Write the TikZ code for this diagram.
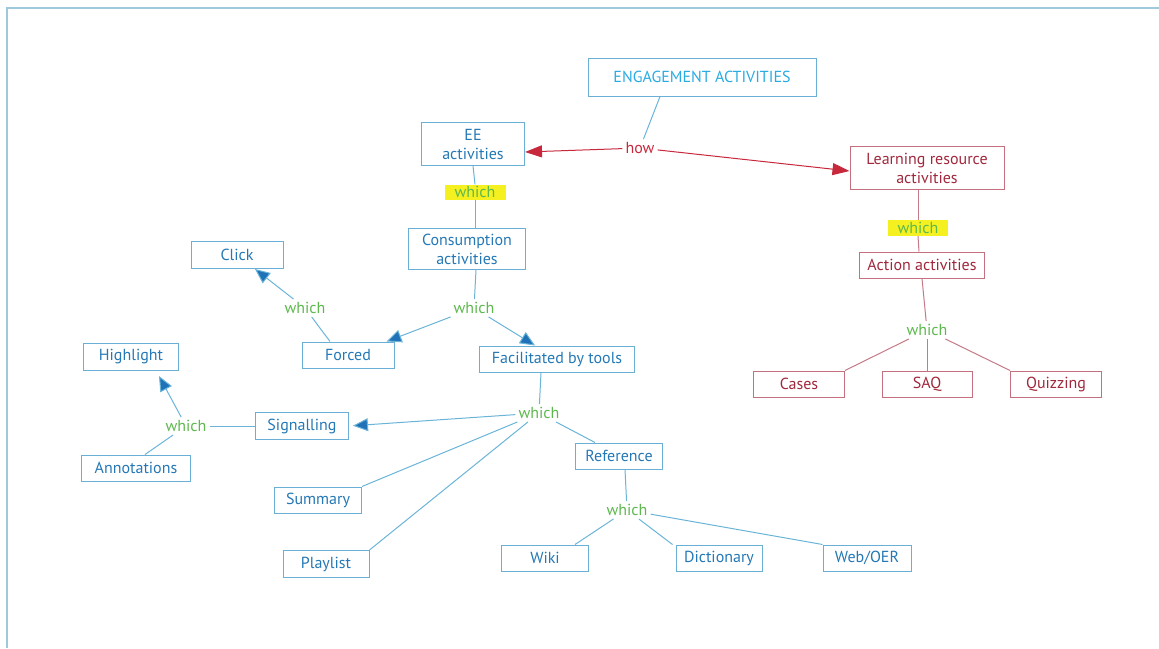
\documentclass[tikz,border=0pt]{standalone}
\usepackage{fontspec}
\setmainfont{PT Sans}
\usetikzlibrary{arrows.meta}
\definecolor{boxblue}{HTML}{6AB0D6}
\definecolor{txtblue}{HTML}{2478B5}
\definecolor{engblue}{HTML}{29ABE2}
\definecolor{lineblue}{HTML}{6AB4D8}
\definecolor{tipblue}{HTML}{1F72B8}
\definecolor{boxred}{HTML}{C4707E}
\definecolor{txtred}{HTML}{A0283C}
\definecolor{linered}{HTML}{C47A88}
\definecolor{howred}{HTML}{C8283C}
\definecolor{whgreen}{HTML}{5DB84E}
\definecolor{hlyellow}{HTML}{F5F020}
\definecolor{framec}{HTML}{9FC8DC}
\tikzset{
  x=1pt,y=-1pt,
  every node/.style={font=\fontsize{16}{19}\selectfont},
  bbox/.style={draw=boxblue,line width=1pt,text=txtblue,align=center,inner sep=0pt,minimum height=26pt},
  rbox/.style={draw=boxred,line width=1pt,text=txtred,align=center,inner sep=0pt,minimum height=26pt},
  wh/.style={text=whgreen,inner sep=3pt},
  hl/.style={fill=hlyellow,text=whgreen,inner sep=0pt,minimum height=15pt},
  bline/.style={draw=lineblue,line width=1pt},
  rline/.style={draw=linered,line width=1pt},
  barr/.style={bline,-{Triangle[length=15pt,width=13pt,fill=tipblue]}},
  rarr/.style={draw=howred,line width=1pt,-{Triangle[length=17pt,width=12pt,fill=howred]}}
}
\begin{document}
\begin{tikzpicture}
\useasboundingbox (0,0) rectangle (1159,648);
\draw[framec,line width=1.2pt] (7,648) -- (7,8) -- (1159,8);
% nodes
\node[bbox,minimum width=228pt,minimum height=38pt,text=engblue] (eng) at (702,77) {ENGAGEMENT ACTIVITIES};
\node[bbox,minimum width=103pt,minimum height=43pt] (ee) at (473,144) {EE\\activities};
\node[hl,minimum width=61pt] (w1) at (475,192) {which};
\node[text=howred,inner sep=3pt] (how) at (640,148) {how};
\node[rbox,minimum width=154pt,minimum height=43pt] (lr) at (927,168) {Learning resource\\activities};
\node[hl,minimum width=60pt,minimum height=16pt] (w2) at (918,228) {which};
\node[rbox,minimum width=125pt] (act) at (922,265) {Action activities};
\node[wh] (wact) at (927,330) {which};
\node[rbox,minimum width=91pt] (cases) at (799,384) {Cases};
\node[rbox,minimum width=90pt] (saq) at (927,384) {SAQ};
\node[rbox,minimum width=91pt] (quiz) at (1056,384) {Quizzing};
\node[bbox,minimum width=117pt,minimum height=41pt] (cons) at (467,249) {Consumption\\activities};
\node[wh] (wcons) at (474,308) {which};
\node[bbox,minimum width=92pt,minimum height=27pt] (click) at (237,255) {Click};
\node[wh] (wforced) at (305,308) {which};
\node[bbox,minimum width=92pt] (forced) at (348,355) {Forced};
\node[bbox,minimum width=155pt] (fac) at (557,359) {Facilitated by tools};
\node[wh] (wfac) at (539,413) {which};
\node[bbox,minimum width=95pt,minimum height=27pt] (high) at (131,357) {Highlight};
\node[wh] (wsig) at (186,426) {which};
\node[bbox,minimum width=93pt,minimum height=27pt] (sig) at (302,426) {Signalling};
\node[bbox,minimum width=109pt] (ann) at (136,468) {Annotations};
\node[bbox,minimum width=87pt] (sum) at (318,500) {Summary};
\node[bbox,minimum width=86pt,minimum height=27pt] (play) at (326,564) {Playlist};
\node[bbox,minimum width=87pt] (ref) at (619,456) {Reference};
\node[wh] (wref) at (627,510) {which};
\node[bbox,minimum width=87pt] (wiki) at (545,558) {Wiki};
\node[bbox,minimum width=86pt] (dict) at (719,558) {Dictionary};
\node[bbox,minimum width=88pt] (web) at (867,558) {Web/OER};
% connectors
\draw[bline] ([xshift=-42pt]eng.south) -- (how);
\draw[rarr] (how) -- ([yshift=-8pt]ee.east);
\draw[rarr] (how) -- ([yshift=-3pt]lr.west);
\draw[bline] (ee.south) -- (w1.north);
\draw[bline] (w1.south) -- ([xshift=8pt]cons.north);
\draw[bline] ([xshift=9pt]cons.south) -- (wcons);
\draw[barr] (wcons) -- ([xshift=-8pt]forced.north east);
\draw[barr] (wcons) -- (fac);
\draw[bline] ([xshift=-18pt]forced.north) -- (wforced);
\draw[barr] (wforced) -- (click);
\draw[bline] ([xshift=-16pt]fac.south) -- (wfac);
\draw[barr,shorten >=4pt] (wfac) -- (sig.east);
\draw[bline] (wfac) -- (sum.north east);
\draw[bline] (wfac) -- (play.north east);
\draw[bline] (wfac) -- ([xshift=-24pt]ref.north);
\draw[bline] (sig.west) -- (wsig);
\draw[barr] (wsig) -- ([xshift=28pt,yshift=-5pt]high.south);
\draw[bline] (wsig) -- ([xshift=9pt]ann.north);
\draw[bline] ([xshift=6pt]ref.south) -- (wref);
\draw[bline] (wref) -- ([xshift=30pt]wiki.north);
\draw[bline] (wref) -- ([xshift=-3pt]dict.north west);
\draw[bline] (wref) -- (web.north west);
\draw[rline] ([xshift=-9pt]lr.south) -- (w2.north);
\draw[rline] (w2.south) -- ([xshift=-3pt]act.north);
\draw[rline] (act.south) -- (wact);
\draw[rline] (wact) -- (cases.north east);
\draw[rline] (wact) -- (saq.north);
\draw[rline] (wact) -- (quiz.north west);
\end{tikzpicture}
\end{document}
